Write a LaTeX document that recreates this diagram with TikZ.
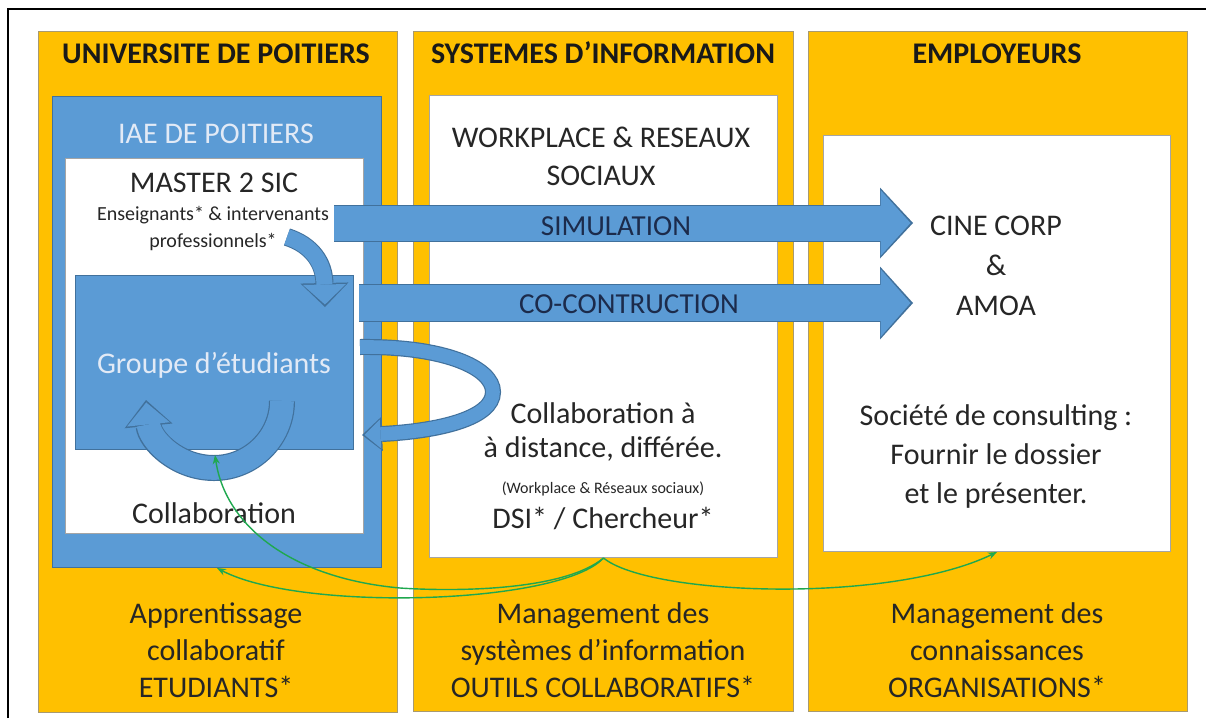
\documentclass[tikz,border=0pt]{standalone}
\usepackage{fontspec}
\setmainfont{Carlito}
\usetikzlibrary{arrows.meta, positioning}

\definecolor{colyellow}{HTML}{FFC000}
\definecolor{colborder}{HTML}{A89A70}
\definecolor{bluefill}{HTML}{5B9BD5}
\definecolor{blueline}{HTML}{41719C}
\definecolor{boxline}{HTML}{A5A5A5}
\definecolor{textdark}{HTML}{262626}
\definecolor{navytext}{HTML}{1C2B4B}
\definecolor{paletext}{HTML}{E2EAF6}
\definecolor{linkgreen}{HTML}{1FA84F}

\begin{document}
\begin{tikzpicture}[
    x=1pt, y=-1pt,
    column/.style={draw=colborder, fill=colyellow, line width=1.2pt, anchor=north west, inner sep=0pt},
    whitebox/.style={draw=boxline, fill=white, line width=1pt, anchor=north west, inner sep=0pt},
    bluebox/.style={draw=blueline, fill=bluefill, line width=1pt, anchor=north west, inner sep=0pt},
    header/.style={font=\fontsize{30}{36}\selectfont\bfseries, text=black!90, anchor=base, inner sep=0pt},
    bigtxt/.style={font=\fontsize{30}{37}\selectfont, text=textdark, anchor=base, inner sep=0pt, align=center},
    smalltxt/.style={font=\fontsize{20}{27}\selectfont, text=textdark, anchor=base, inner sep=0pt, align=center},
    minitxt/.style={font=\fontsize{16}{19}\selectfont, text=textdark, anchor=base, inner sep=0pt},
    arrowtxt/.style={font=\fontsize{29}{35}\selectfont, text=navytext, anchor=base, inner sep=0pt},
    bluebody/.style={draw=bluefill, line width=#1, shorten >=2.5pt},
    blueedge/.style={draw=blueline, line width=#1, shorten >=0pt},
    link/.style={draw=linkgreen, line width=1.4pt, -{Stealth[length=9pt, width=7pt]}}
  ]
    \useasboundingbox (0,0) rectangle (1206,718);
    \fill[white] (0,0) rectangle (1206,718);
    \draw[line width=2pt] (8,718) -- (8,9) -- (1206,9);

    % Columns
    \node[column, minimum width=359pt, minimum height=681pt] (univ)    at (38,31)  {};
    \node[column, minimum width=380pt, minimum height=680pt] (sysinfo) at (413,31) {};
    \node[column, minimum width=379pt, minimum height=680pt] (employ)  at (808,31) {};

    % Inner boxes
    \node[bluebox,  minimum width=329pt, minimum height=471pt] (iae)     at (52,96)   {};
    \node[whitebox, minimum width=298pt, minimum height=375pt] (master)  at (65,158)  {};
    \node[bluebox,  minimum width=278pt, minimum height=174pt] (groupe)  at (75,275)  {};
    \node[whitebox, minimum width=348pt, minimum height=462pt] (workbox) at (429,95)  {};
    \node[whitebox, minimum width=347pt, minimum height=416pt] (consult) at (823,135) {};

    % Headers
    \node[header] (hunivers) at (216,63) {UNIVERSITE DE POITIERS};
    \node[header] (hsysinfo) at (603,63) {SYSTEMES D’INFORMATION};
    \node[header] (hemploy)  at (997,63) {EMPLOYEURS};

    % Column 1 (multi-line nodes sit on their last baseline)
    \node[bigtxt, text=paletext] (iaelabel) at (216,143) {IAE DE POITIERS};
    \node[bigtxt] (masterlabel) at (214,192) {MASTER 2 SIC};
    \node[smalltxt] (teachers) at (213,247) {Enseignants* \& intervenants\\professionnels*};
    \node[bigtxt, text=paletext] (groupelabel) at (214,373) {Groupe d’étudiants};
    \node[bigtxt] (collab) at (214,523) {Collaboration};
    \node[bigtxt] (learning) at (216,697) {Apprentissage\\collaboratif\\ETUDIANTS*};

    % Column 2
    \node[bigtxt, font=\fontsize{30}{38}\selectfont] (workplace) at (601,185) {WORKPLACE \& RESEAUX\\SOCIAUX};
    \node[bigtxt, font=\fontsize{30}{34}\selectfont] (distance) at (603,457) {Collaboration à\\à distance, différée.};
    \node[minitxt] (tools) at (603,493) {(Workplace \& Réseaux sociaux)};
    \node[bigtxt] (dsi) at (603,528) {DSI* / Chercheur*};
    \node[bigtxt] (mgtsi) at (603,697) {Management des\\systèmes d’information\\OUTILS COLLABORATIFS*};

    % Column 3
    \node[bigtxt, font=\fontsize{30}{40}\selectfont] (cinecorp) at (996,315) {CINE CORP\\\&\\AMOA};
    \node[bigtxt, font=\fontsize{30}{39}\selectfont] (consulting) at (996,503) {Société de consulting :\\Fournir le dossier\\et le présenter.};
    \node[bigtxt] (mgtknow) at (997,697) {Management des\\connaissances\\ORGANISATIONS*};

    % Block arrows
    \coordinate (simstart) at (334,223);
    \coordinate (simend)   at (913,223);
    \coordinate (costart)  at (359,303);
    \coordinate (coend)    at (913,303);
    \draw[preaction={blueedge=37pt, -{Triangle[width=71pt, length=33pt, line width=0pt]}},
          bluebody=35pt, -{Triangle[width=66pt, length=30pt, line width=0pt]}] (simstart) -- (simend);
    \draw[preaction={blueedge=38pt, -{Triangle[width=73pt, length=33pt, line width=0pt]}},
          bluebody=36pt, -{Triangle[width=68pt, length=30pt, line width=0pt]}] (costart) -- (coend);
    \node[arrowtxt] (simlabel) at (616,235) {SIMULATION};
    \node[arrowtxt] (colabel)  at (629,313) {CO-CONTRUCTION};

    % Bent arrows
    \draw[preaction={blueedge=18pt, -{Triangle[width=48pt, length=24pt, line width=0pt]}},
          bluebody=16pt, -{Triangle[width=43pt, length=20pt, line width=0pt]}]
      (287,237) .. controls (312,245) and (324,263) .. (325,307);
    \draw[preaction={blueedge=16pt, -{Triangle[width=34pt, length=20pt, line width=0pt]}},
          bluebody=13.6pt, -{Triangle[width=29pt, length=16pt, line width=0pt]}]
      (360,347) .. controls (445,346) and (493,368) .. (493,392)
      .. controls (493,418) and (440,431) .. (362,435);
    \draw[preaction={blueedge=26pt, -{Triangle[width=48pt, length=26pt, line width=0pt]}},
          bluebody=23.6pt, -{Triangle[width=43pt, length=22pt, line width=0pt]}]
      (282,401) .. controls (282,438) and (251,468) .. (214,468)
      .. controls (177,468) and (150,440) .. (146,400);

    % Links
    \coordinate (ugap) at (215,455);
    \draw[link] (workbox.south) .. controls (650,596) and (890,604) .. (consult.south);
    \draw[link] (workbox.south) .. controls (560,605) and (300,612) .. (iae.south);
    \draw[link] (workbox.south) .. controls (565,590) and (460,592) .. (400,588)
      .. controls (290,578) and (225,525) .. (ugap);
\end{tikzpicture}
\end{document}
